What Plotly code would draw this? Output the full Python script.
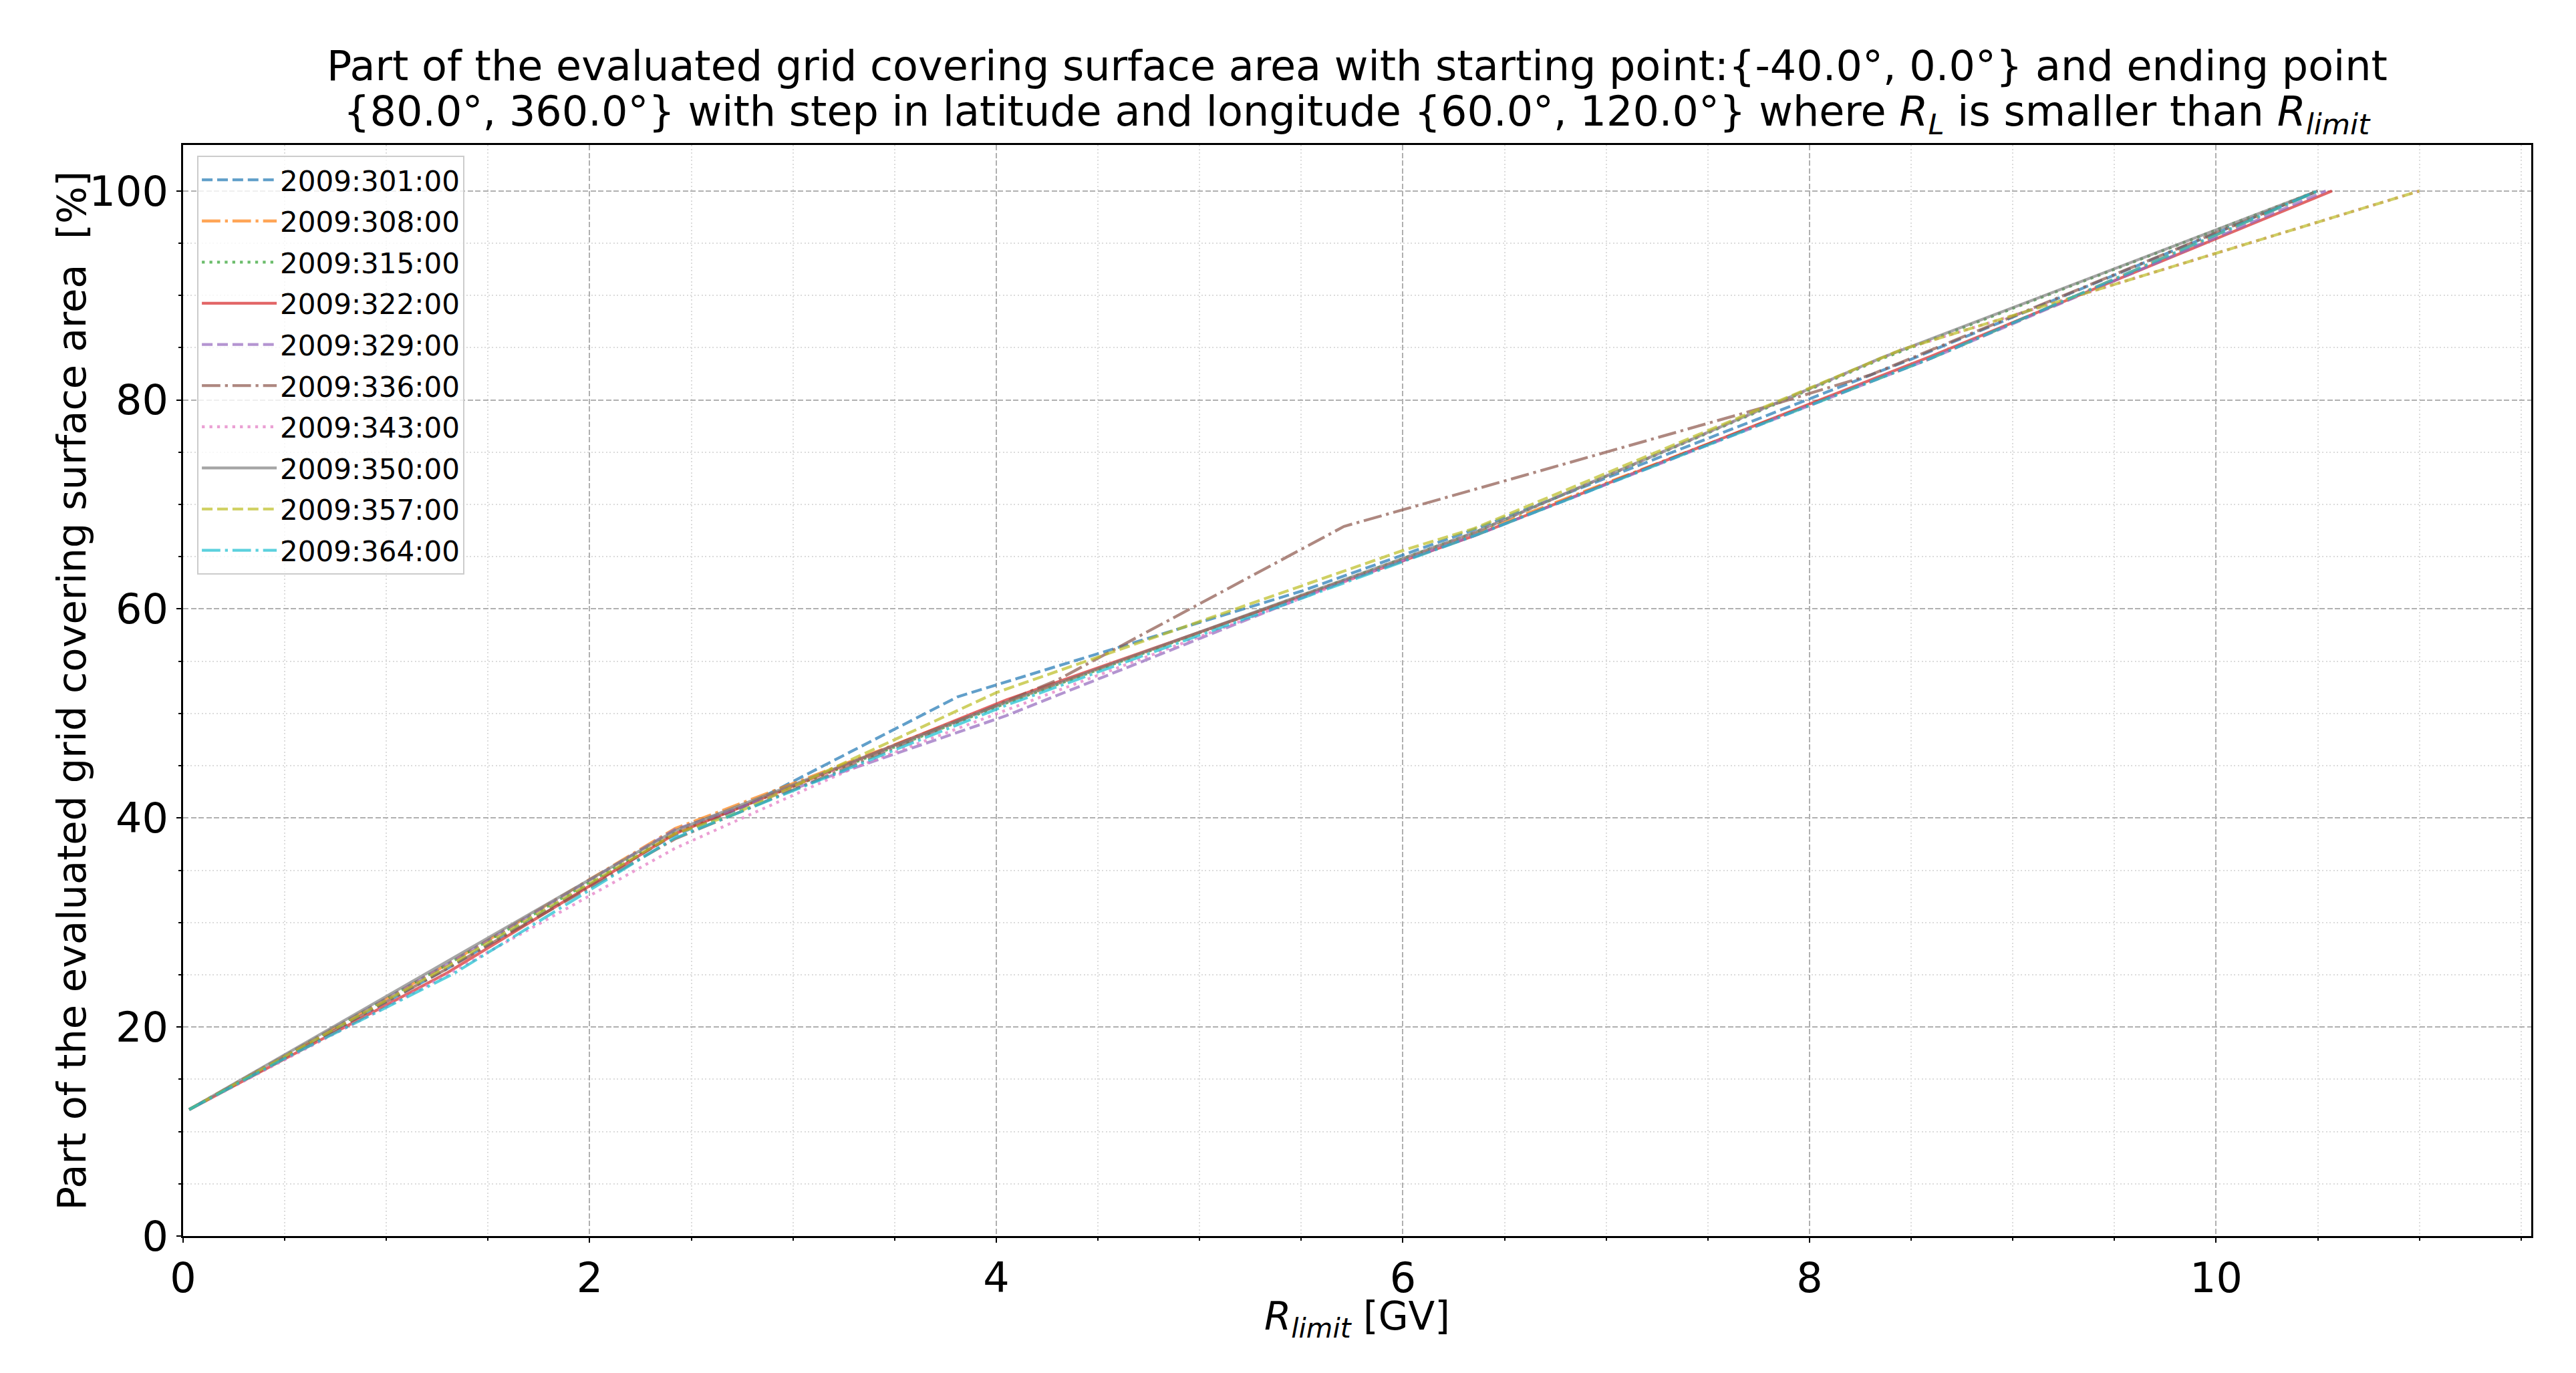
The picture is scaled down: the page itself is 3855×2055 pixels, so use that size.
import plotly.graph_objects as go

# ---------------- data ----------------
labels = ["2009:301:00", "2009:308:00", "2009:315:00", "2009:322:00", "2009:329:00",
          "2009:336:00", "2009:343:00", "2009:350:00", "2009:357:00", "2009:364:00"]

x_301 = [0.03, 1.3, 2.4, 2.75, 3.81, 5.5, 6.35, 8.5, 10.5]
y_301 = [12.1, 25.6, 38.2, 41.0, 51.6, 61.7, 67.6, 83.9, 100.0]

x_308 = [0.03, 1.3, 2.42, 4.05, 6.35, 8.6, 10.5]
y_308 = [12.1, 26.0, 39.0, 51.1, 67.2, 84.0, 100.0]

x_315 = [0.03, 1.3, 2.42, 4.05, 6.35, 8.35, 10.5]
y_315 = [12.1, 26.0, 38.6, 51.0, 67.3, 83.9, 100.0]

x_322 = [0.03, 1.3, 2.42, 4.05, 6.35, 8.6, 10.57]
y_322 = [12.1, 25.2, 38.5, 51.3, 67.0, 84.2, 100.0]

x_329 = [0.03, 1.3, 2.42, 4.05, 5.7, 6.35, 8.6, 10.54]
y_329 = [12.1, 26.0, 38.9, 49.8, 62.6, 67.0, 84.0, 100.0]

x_336 = [0.03, 1.3, 2.42, 4.3, 5.71, 7.76, 8.3, 10.5]
y_336 = [12.1, 25.6, 38.0, 53.2, 67.9, 79.2, 82.4, 100.0]

x_343 = [0.03, 1.3, 2.42, 3.3, 6.35, 8.45, 11.0]
y_343 = [12.1, 25.0, 37.1, 44.8, 67.3, 84.8, 100.0]

x_350 = [0.03, 1.3, 2.42, 4.05, 6.35, 8.35, 10.5]
y_350 = [12.1, 26.3, 38.8, 51.1, 67.3, 84.0, 100.0]

x_357 = [0.03, 1.3, 2.42, 2.7, 4.0, 6.0, 6.35, 8.45, 11.0]
y_357 = [12.1, 25.8, 38.5, 40.3, 52.0, 65.6, 67.7, 84.8, 100.0]

x_364 = [0.03, 0.5, 1.33, 2.41, 4.05, 6.35, 8.6, 10.5]
y_364 = [12.1, 17.0, 25.1, 38.0, 50.8, 67.0, 84.0, 100.0]

xs = [x_301, x_308, x_315, x_322, x_329, x_336, x_343, x_350, x_357, x_364]
ys = [y_301, y_308, y_315, y_322, y_329, y_336, y_343, y_350, y_357, y_364]

colors = ["#1f77b4", "#ff7f0e", "#2ca02c", "#d62728", "#9467bd",
          "#8c564b", "#e377c2", "#7f7f7f", "#bcbd22", "#17becf"]

DASHED = "16px,6.9px"
DASHDOT = "27.7px,6.9px,4.3px,6.9px"
DOTTED = "4.3px,7.1px"
SOLID = "solid"
dashes = [DASHED, DASHDOT, DOTTED, SOLID, DASHED, DASHDOT, DOTTED, SOLID, DASHED, DASHDOT]

x_range = [0, 11.55]
y_range = [0, 104.4]

title_line1 = "Part of the evaluated grid covering surface area with starting point:{-40.0°, 0.0°} and ending point"
title_line2 = ("{80.0°, 360.0°} with step in latitude and longitude {60.0°, 120.0°} where "
               "<i>R</i><sub><i>L</i></sub> is smaller than <i>R</i><sub><i>limit</i></sub>")
x_title = "<i>R</i><sub><i>limit</i></sub> [GV]"
y_title = "Part of the evaluated grid covering surface area &nbsp;[%]"

FONT = "DejaVu Sans"

fig = go.Figure()
for i, name in enumerate(labels):
    fig.add_trace(go.Scatter(
        x=xs[i], y=ys[i], mode="lines", name=name,
        legendgroup=name,
        line=dict(color=colors[i], width=4.3, dash=dashes[i]),
        opacity=0.7,
    ))

fig.update_layout(
    width=3855, height=2055,
    margin=dict(l=266, r=75, t=209, b=213),
    paper_bgcolor="white", plot_bgcolor="white",
    font=dict(family=FONT, color="black", size=62),
    legend=dict(x=0.006, y=0.99, xanchor="left", yanchor="top",
                bgcolor="rgba(255,255,255,0.8)", bordercolor="#cccccc", borderwidth=2,
                font=dict(family=FONT, size=42, color="black"),
                tracegroupgap=4, itemwidth=112),
    showlegend=True,
)

fig.add_annotation(text=title_line1, xref="paper", yref="paper", x=0.5, y=1.0725,
                   xanchor="center", yanchor="middle", showarrow=False,
                   font=dict(family=FONT, size=62, color="black"))
fig.add_annotation(text=title_line2, xref="paper", yref="paper", x=0.5, y=1.0285,
                   xanchor="center", yanchor="middle", showarrow=False,
                   font=dict(family=FONT, size=62, color="black"))
fig.add_annotation(text=x_title, xref="paper", yref="paper", x=0.5, y=-0.076,
                   xanchor="center", yanchor="middle", showarrow=False,
                   font=dict(family=FONT, size=58, color="black"))
fig.add_annotation(text=y_title, xref="paper", yref="paper", x=-0.0475, y=0.5,
                   xanchor="center", yanchor="middle", showarrow=False, textangle=-90,
                   font=dict(family=FONT, size=59, color="black"))

axis_common = dict(
    showline=True, linecolor="black", linewidth=2.5, mirror=True,
    ticks="outside", ticklen=7, tickwidth=2, tickcolor="black",
    showgrid=True, gridcolor="#b0b0b0", gridwidth=2, griddash="8px,3.5px",
    zeroline=False,
    tickfont=dict(family=FONT, size=62, color="black"),
)

fig.update_xaxes(
    range=x_range, tick0=0, dtick=2, **axis_common,
    minor=dict(dtick=0.5, tick0=0, ticks="outside", ticklen=4, tickwidth=1.5, tickcolor="black",
               showgrid=True, gridcolor="#dcdcdc", gridwidth=1.5, griddash="2px,3.5px"),
)
fig.update_yaxes(
    range=y_range, tick0=0, dtick=20, **axis_common,
    minor=dict(dtick=5, tick0=0, ticks="outside", ticklen=4, tickwidth=1.5, tickcolor="black",
               showgrid=True, gridcolor="#dcdcdc", gridwidth=1.5, griddash="2px,3.5px"),
)

fig.write_html("out.html")
